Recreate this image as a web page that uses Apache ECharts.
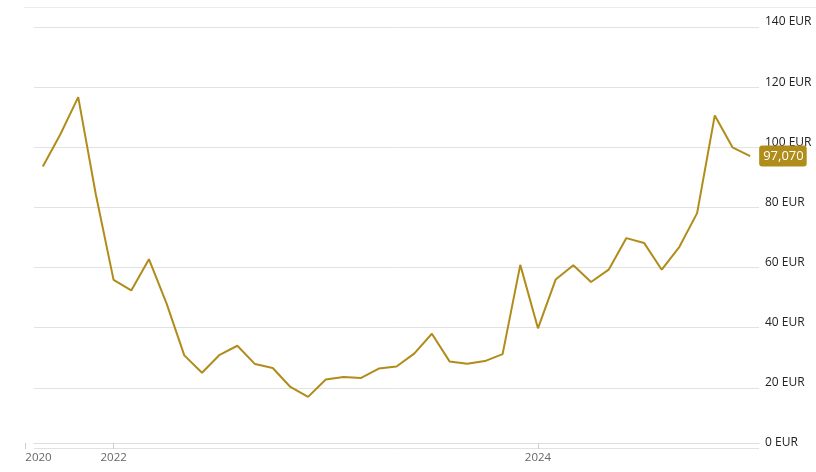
<!DOCTYPE html>
<html>
<head>
<meta charset="utf-8">
<script src="https://cdn.jsdelivr.net/npm/echarts@6/dist/echarts.min.js"></script>
<style>
html,body{margin:0;padding:0;background:#fff;}
#chart{width:816px;height:472px;}
</style>
</head>
<body>
<div id="chart"></div>
<script>
// Period index of each observation (ordinal axis)
const periods = [0,1,2,3,4,5,6,7,8,9,10,11,12,13,14,15,16,17,18,19,20,21,22,23,24,25,26,27,28,29,30,31,32,33,34,35,36,37,38,39,40];
// Price values (EUR)
const prices = [93.6,104.4,116.7,84.2,55.9,52.4,62.8,48.0,30.8,25.0,31.0,34.0,27.9,26.6,20.3,17.0,22.8,23.6,23.3,26.4,27.1,31.4,38.0,28.8,28.0,28.9,31.2,60.9,39.8,56.0,60.8,55.2,59.3,69.8,68.2,59.3,66.9,78.1,110.6,100.0,97.07];
// X-axis tick labels and their period positions
const tickLabels = ['2020','2022','2024'];
const tickPeriods = [-1,4,28];
// Y ticks
const yTicks = [0,20,40,60,80,100,120,140];

const gold = '#B08C1A';
const chart = echarts.init(document.getElementById('chart'), null, {renderer:'canvas'});
const seriesData = periods.map((p,i)=>[p, prices[i]]);
const labelMap = {};
tickPeriods.forEach((p,i)=>{labelMap[p]=tickLabels[i];});

chart.setOption({
  animation:false,
  textStyle:{fontFamily:'Open Sans'},
  graphic:[{
    type:'line', shape:{x1:24,y1:7.5,x2:816,y2:7.5},
    style:{stroke:'#ececec',lineWidth:1}, silent:true
  }],
  grid:[
    {left:34,right:57,top:27,bottom:24},
    {left:25.3,right:57,top:27,bottom:24}
  ],
  xAxis:[
    {gridIndex:0,type:'value',min:-0.5,max:40.5,offset:-5,
     axisLine:{show:true,lineStyle:{color:'#dddddd',width:1}},
     axisTick:{show:false},axisLabel:{show:false},splitLine:{show:false}},
    {gridIndex:1,type:'value',min:-1,max:40.5,offset:-5,
     axisLine:{show:false},
     axisTick:{show:true,customValues:tickPeriods,length:6,lineStyle:{color:'#cccccc'}},
     axisLabel:{show:true,customValues:tickPeriods,margin:9,color:'#666666',fontSize:11.5,fontFamily:'Open Sans',
       alignMinLabel:'left',
       formatter:(v)=>labelMap[v]!==undefined?labelMap[v]:''},
     splitLine:{show:false}}
  ],
  yAxis:[
    {gridIndex:0,type:'value',position:'right',min:0,max:140,interval:20,
     axisLine:{show:false},axisTick:{show:false},
     splitLine:{show:true,lineStyle:{color:'#e2e2e2',width:1}},
     axisLabel:{show:true,margin:6,color:'#222222',fontSize:12,fontFamily:'Open Sans',
       verticalAlign:'bottom',align:'left',padding:[0,0,-1,0],
       formatter:(v)=>yTicks.includes(v)?v+' EUR':''}},
    {gridIndex:1,type:'value',min:0,max:140,show:false}
  ],
  series:[{
    type:'line',xAxisIndex:0,yAxisIndex:0,data:seriesData,
    symbol:'none',lineStyle:{color:gold,width:2},
    itemStyle:{color:gold},
    endLabel:{show:true,distance:9,
      formatter:(p)=>p.value[1].toFixed(3).replace('.',','),
      color:'#ffffff',backgroundColor:gold,borderRadius:3,
      padding:[4,3,4,4],fontSize:13,fontFamily:'Open Sans'}
  }]
});
</script>
</body>
</html>
